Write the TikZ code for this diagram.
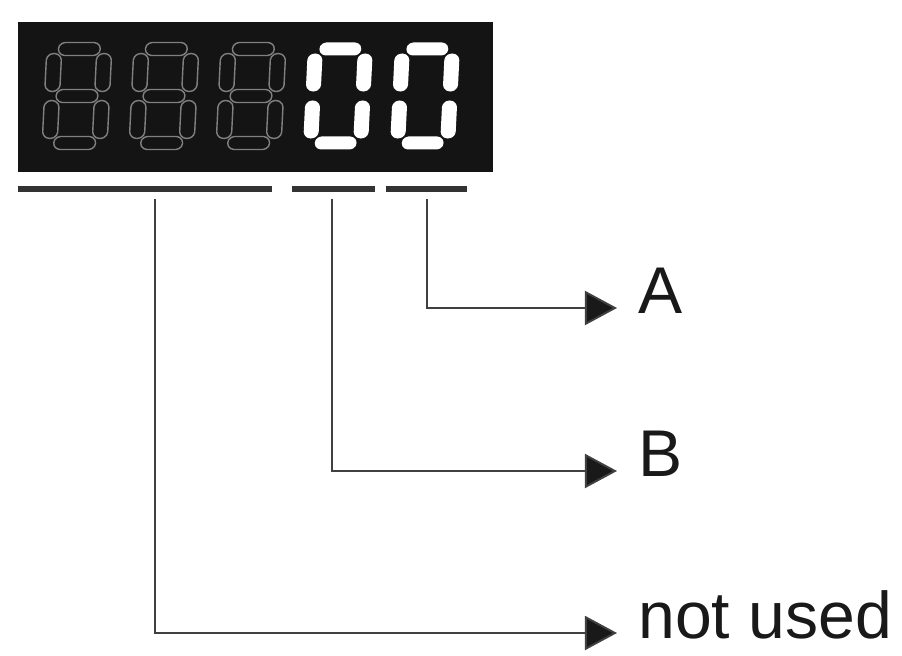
\documentclass[tikz,border=0pt]{standalone}
\usepackage{fontspec}
\setmainfont{Liberation Sans}
\usetikzlibrary{arrows.meta}

\begin{document}
\begin{tikzpicture}[
  x=0.025cm, y=-0.025cm,
  lab/.style={font=\fontsize{47}{52}\selectfont, text=black!90, anchor=west,
              inner xsep=15pt, inner ysep=0pt, text height=0.72em, text depth=0pt},
  ar/.style={-{Triangle[length=0.8cm, width=0.85cm, fill=black!90]}, draw=black!75, line width=1.4pt},
  uline/.style={draw=black!80, line width=3.8pt},
  dimseg/.style={draw=black!50, line width=1pt},
  litseg/.style={fill=white},
  seg7/.pic={
    \foreach \yy in {#1}
      \path[pic actions, rounded corners=2.5pt] (-22,\yy) -- (-18,\yy-6.5) -- (18,\yy-6.5)
        -- (22,\yy) -- (18,\yy+6.5) -- (-18,\yy+6.5) -- cycle;
    \foreach \xx in {-25,25} \foreach \yy in {-23.5,23.5}
      \path[pic actions, rounded corners=2.5pt] (\xx,\yy-20) -- (\xx-7.5,\yy-16) -- (\xx-7.5,\yy+16)
        -- (\xx,\yy+20) -- (\xx+7.5,\yy+16) -- (\xx+7.5,\yy-16) -- cycle;
  }
]
\useasboundingbox (0,0) rectangle (902,656);

\fill[black!92] (18,22) rectangle (493,172);
\foreach \cx in {77,164,251}
  \pic[dimseg, xslant=0.05] at (\cx,96) {seg7={-47,0,47}};
\foreach \cx in {338,425}
  \pic[litseg, xslant=0.05] at (\cx,96) {seg7={-47,47}};

\draw[uline] (18,189) -- (272,189);
\draw[uline] (292,189) -- (375,189);
\draw[uline] (386,189) -- (467,189);

\coordinate (uNot) at (155,199);
\coordinate (uB)   at (332,199);
\coordinate (uA)   at (427,199);

\node[lab] (lA)   at (617,308) {A};
\node[lab] (lB)   at (617,471) {B};
\node[lab] (lNot) at (617,633) {not used};

\draw[ar] (uA) |- (lA.west);
\draw[ar] (uB) |- (lB.west);
\draw[ar] (uNot) |- (lNot.west);
\end{tikzpicture}
\end{document}
